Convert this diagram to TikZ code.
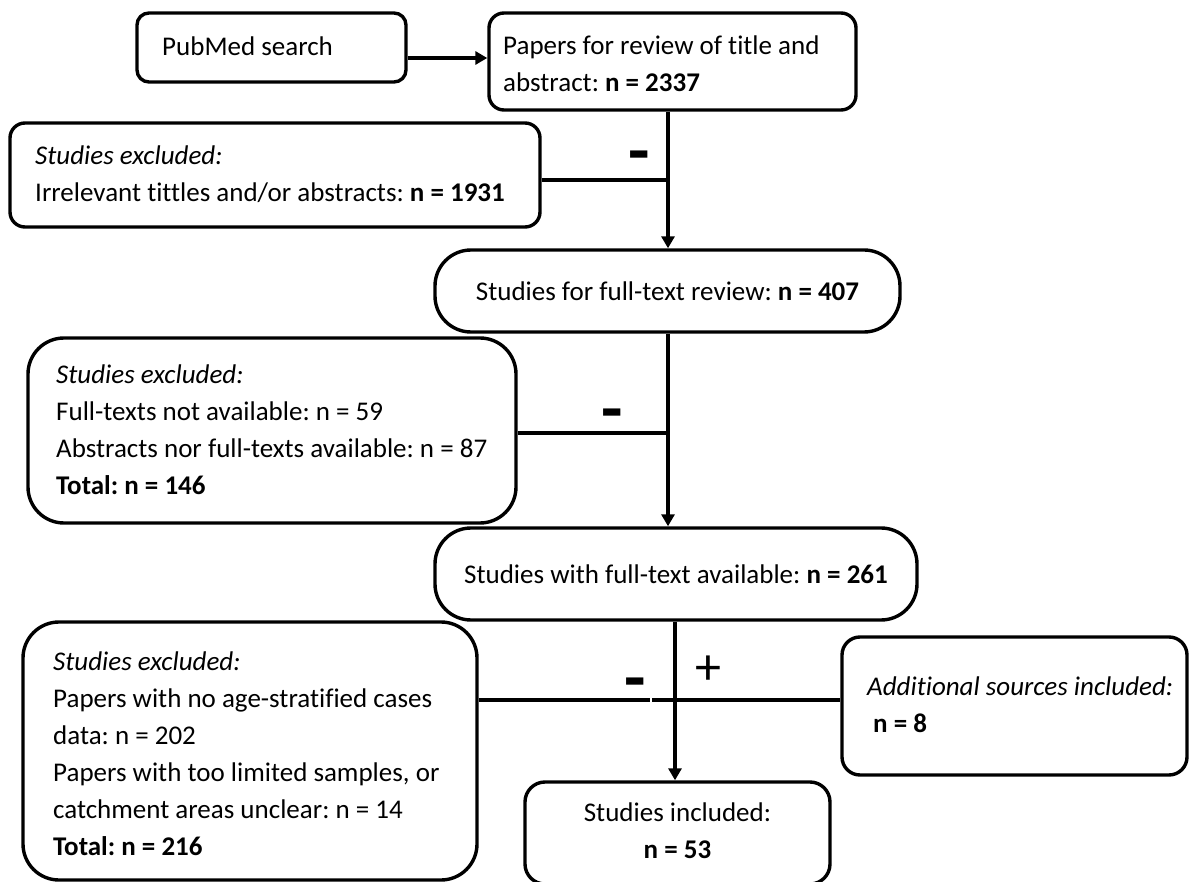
\documentclass[tikz,border=0pt]{standalone}
\usepackage{fontspec}
\setmainfont{Carlito}[Ligatures=NoCommon]
\usetikzlibrary{arrows.meta}
\frenchspacing
\begin{document}
\begin{tikzpicture}[x=1pt,y=-1pt,
  box/.style={draw, line width=3.4pt, rounded corners=#1, inner sep=0pt},
  txt/.style={align=left, inner sep=0pt, font=\fontsize{27}{37}\selectfont},
  ctxt/.style={align=center, inner sep=0pt, font=\fontsize{27}{37}\selectfont},
  ln/.style={line width=3.4pt},
  arr/.style={line width=3.4pt, -{Triangle[length=12pt,width=13pt]}},
  minus/.style={inner sep=0pt, anchor=base, font=\fontsize{70}{70}\selectfont\bfseries},
  plus/.style={inner sep=0pt, font=\fontsize{52}{52}\selectfont}]
\useasboundingbox (0,0) rectangle (1189,882);
\fill[white] (0,0) rectangle (1189,882);

% boxes
\node[box=12, minimum width=269pt, minimum height=69pt] (pub) at (271.5,47.5) {};
\node[box=15, minimum width=367pt, minimum height=97pt] (pap) at (672.5,61.5) {};
\node[box=15, minimum width=530pt, minimum height=104pt] (ex1) at (275,175) {};
\node[box=36, minimum width=465pt, minimum height=82pt] (ft) at (667.5,291)
  {\fontsize{27}{37}\selectfont Studies for full-text review: \textbf{n = 407}};
\node[box=36, minimum width=488pt, minimum height=185pt] (ex2) at (272,430.5) {};
\node[box=36, minimum width=482pt, minimum height=92pt] (av) at (676,574)
  {\fontsize{27}{37}\selectfont Studies with full-text available: \textbf{n = 261}};
\node[box=36, minimum width=454pt, minimum height=258pt] (ex3) at (250,751) {};
\node[box=18, minimum width=345pt, minimum height=138pt] (add) at (1014.5,706) {};
\node[box=20, minimum width=305pt, minimum height=102pt] (inc) at (677.5,833) {};

% texts
\node[txt, anchor=west] (tpub) at (162,46) {PubMed search};
\node[txt, anchor=west] (tpap) at (503,64) {Papers for review of title and\\abstract: \textbf{n = 2337}};
\node[txt, anchor=west] (tex1) at (35,174) {\textit{Studies excluded:}\\Irrelevant tittles and/or abstracts: \textbf{n = 1931}};
\node[txt, anchor=west] (tex2) at (56,430) {\textit{Studies excluded:}\\Full-texts not available: n = 59\\Abstracts nor full-texts available: n = 87\\\textbf{Total: n = 146}};
\node[txt, anchor=west] (tex3) at (53,754) {\textit{Studies excluded:}\\Papers with no age-stratified cases\\data: n = 202\\Papers with too limited samples, or\\catchment areas unclear: n = 14\\\textbf{Total: n = 216}};
\node[txt, anchor=west] (tadd) at (867,705) {\textit{Additional sources included:}\\\hspace{6pt}\textbf{n = 8}};
\node[ctxt] (tinc) at (677.5,831) {Studies included:\\\textbf{n = 53}};

% signs
\node[minus] (m1) at (639,175) {-};
\node[minus] (m2) at (612,432) {-};
\node[minus] (m3) at (635,701) {-};
\node[plus] (p3) at (708,670) {+};

% connectors
\coordinate (v1) at (668,0);
\coordinate (v3) at (675,0);
\coordinate (j1) at (668,180);
\coordinate (j2) at (668,433);
\coordinate (g1) at (650,700);
\coordinate (g2) at (652,700);
\coordinate (a1) at (0,58);
\draw[arr] (pub.east |- a1) -- (pap.west |- a1);
\draw[arr] (pap.south -| v1) -- (ft.north -| v1);
\draw[ln] (ex1.east |- j1) -- (j1);
\draw[arr] (ft.south -| v1) -- (av.north -| v1);
\draw[ln] (ex2.east |- j2) -- (j2);
\draw[arr] (av.south -| v3) -- (inc.north -| v3);
\draw[ln] (ex3.east |- g1) -- (g1);
\draw[ln] (g2) -- (add.west |- g2);
\end{tikzpicture}
\end{document}
